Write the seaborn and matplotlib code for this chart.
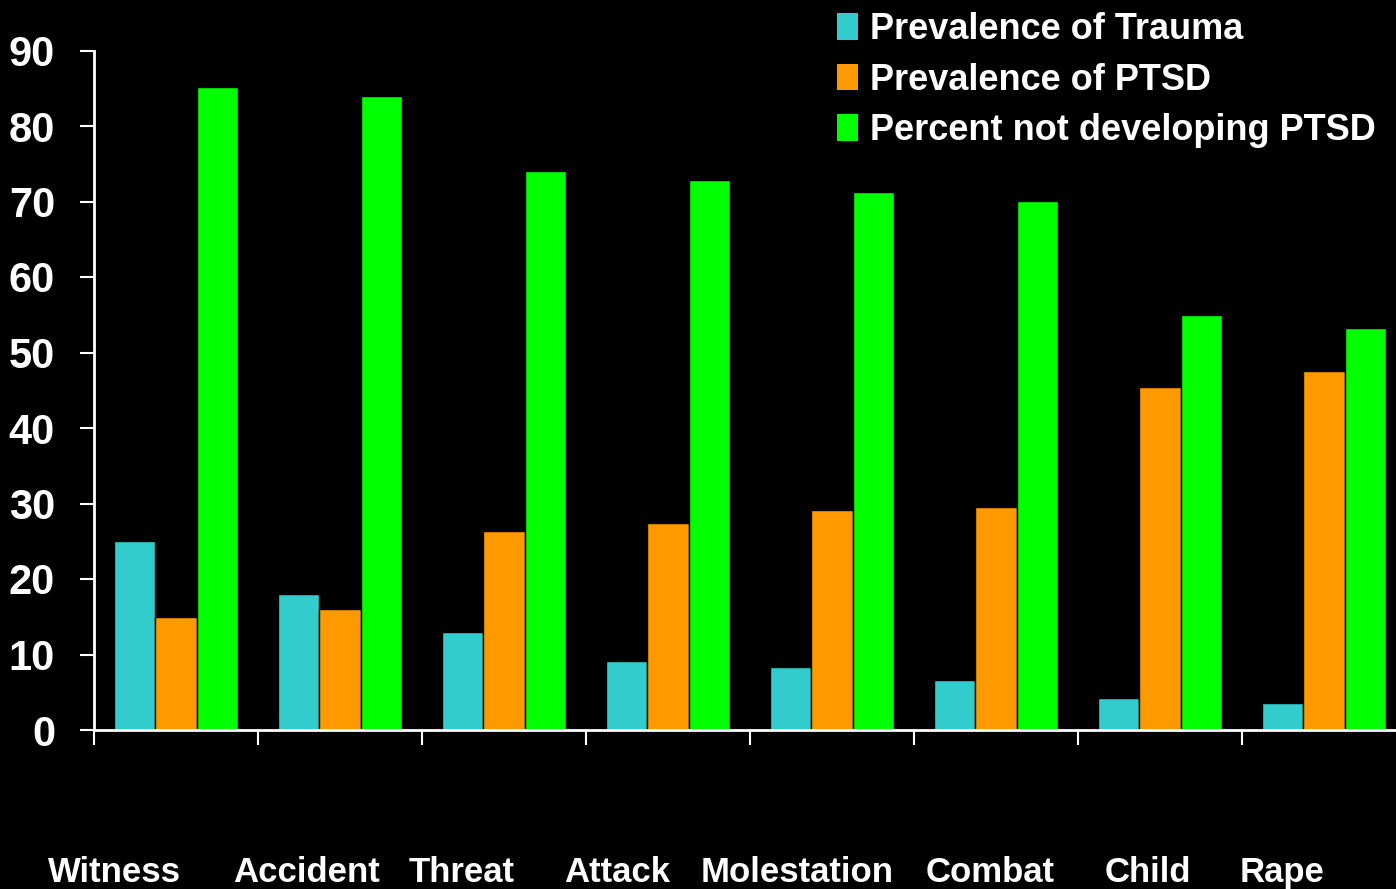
import numpy as np
import pandas as pd
import matplotlib
matplotlib.use("Agg")
import matplotlib.pyplot as plt
import matplotlib.transforms as mtransforms
import seaborn as sns

# Trauma type categories and the three measured series (percent)
categories = ["Witness", "Accident", "Threat", "Attack", "Molestation", "Combat", "Child", "Rape"]
trauma = [25.0, 18.0, 13.0, 9.1, 8.3, 6.6, 4.2, 3.6]
ptsd = [15.0, 16.0, 26.3, 27.4, 29.2, 29.5, 45.4, 47.5]
not_ptsd = [85.1, 84.0, 74.0, 72.8, 71.2, 70.1, 55.0, 53.3]
series = ["Prevalence of Trauma", "Prevalence of PTSD", "Percent not developing PTSD"]
colors = ["#33CCCC", "#FF9900", "#00FF00"]
yticks = list(range(0, 100, 10))

# Horizontal nudges (pixels) for the category names under the axis
label_shift_px = [-62, -33, -42, -51, -35, -6, -12, -42]

df = pd.DataFrame({
    "category": categories * 3,
    "series": [series[0]] * 8 + [series[1]] * 8 + [series[2]] * 8,
    "value": trauma + ptsd + not_ptsd,
})

sns.set_theme(style="dark")
plt.rcParams["font.family"] = ["Liberation Sans", "DejaVu Sans"]

W, H = 1396, 889
fig = plt.figure(figsize=(W / 100, H / 100), dpi=100, facecolor="black")
ax = fig.add_axes([94 / W, (H - 730) / H, (1406 - 94) / W, 679.5 / H])
ax.set_facecolor("black")

sns.barplot(data=df, x="category", y="value", hue="series",
            order=categories, hue_order=series, palette=colors,
            width=0.76, edgecolor="black", linewidth=1.0,
            saturation=1.0, ax=ax, legend=True)

ax.set_xlim(-0.5, 7.5)
ax.set_ylim(0, 90)
ax.grid(False)
ax.set_xlabel("")
ax.set_ylabel("")

for side in ("top", "right"):
    ax.spines[side].set_visible(False)
for side in ("left", "bottom"):
    ax.spines[side].set_color("white")
    ax.spines[side].set_linewidth(2)

ax.set_yticks(yticks)
ax.set_yticklabels([str(v) for v in yticks])
ax.tick_params(axis="y", colors="white", length=10, width=1.5, direction="out",
               pad=18, left=True)
for lab in ax.get_yticklabels():
    lab.set_fontweight("bold")
    lab.set_fontsize(30)
    lab.set_color("white")

ax.set_xticks(np.arange(-0.5, 8.0, 1.0))
ax.set_xticklabels([""] * 9)
ax.tick_params(axis="x", colors="white", length=11, width=1.5, direction="out",
               bottom=True)

# Category names along the bottom of the figure
blend = mtransforms.blended_transform_factory(ax.transData, fig.transFigure)
for i, (name, dx) in enumerate(zip(categories, label_shift_px)):
    tr = blend + mtransforms.ScaledTranslation(dx / 100, 0, fig.dpi_scale_trans)
    ax.text(i, (H - 882) / H, name, transform=tr, ha="center", va="baseline",
            color="white", fontsize=25, fontweight="bold", clip_on=False)

# Legend in the top right corner
handles, labels = ax.get_legend_handles_labels()
leg = ax.legend(handles, labels, loc="upper left",
                bbox_to_anchor=(837 / W, 1 - 12 / H), bbox_transform=fig.transFigure,
                frameon=False, borderpad=0, borderaxespad=0,
                handlelength=0.58, handleheight=0.75, handletextpad=0.33,
                labelspacing=0.43,
                prop={"weight": "bold", "size": 26})
for t in leg.get_texts():
    t.set_color("white")
for h in leg.legend_handles:
    h.set_edgecolor("none")

fig.savefig("out.png", dpi=100, facecolor="black")
